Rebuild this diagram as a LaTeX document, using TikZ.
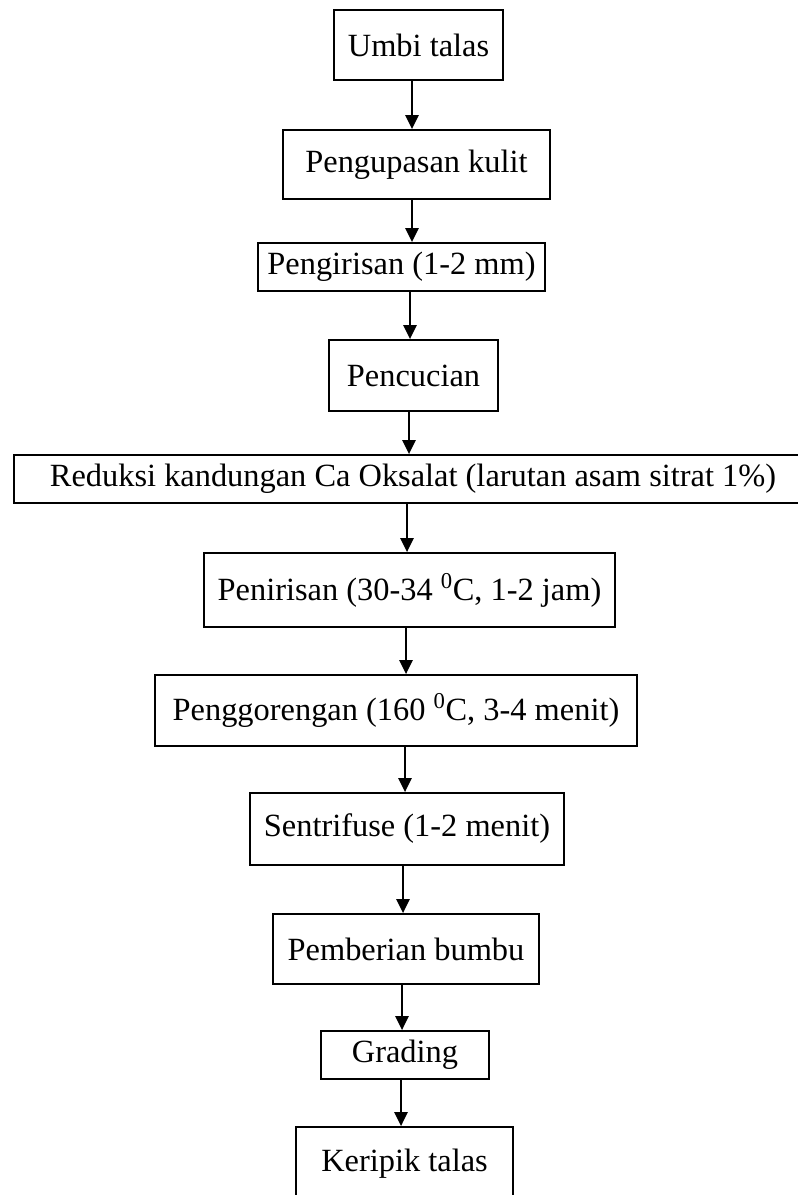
\documentclass[tikz,border=0pt]{standalone}
\usepackage{fontspec}
\setmainfont{Liberation Serif}
\usetikzlibrary{arrows.meta}
\begin{document}
\begin{tikzpicture}[x=0.75pt,y=-0.75pt,
  box/.style={draw, line width=1.4pt, rectangle, inner sep=0pt,
    font=\fontsize{24.3}{28}\selectfont},
  arr/.style={line width=1.4pt, -{Triangle[length=10.5pt,width=10pt]}}]
\useasboundingbox (0,0) rectangle (798,1195);
\fill[white] (0,0) rectangle (798,1195);
\clip (0,0) rectangle (798,1195);

% process steps
\node[box, minimum width=169*0.75pt, minimum height=70*0.75pt] (n1) at (418.5,45) {\raisebox{-3pt}{Umbi talas}};
\node[box, minimum width=267*0.75pt, minimum height=69*0.75pt] (n2) at (416.5,164.5) {Pengupasan kulit};
\node[box, minimum width=287*0.75pt, minimum height=48*0.75pt] (n3) at (401.5,267) {Pengirisan (1-2 mm)};
\node[box, minimum width=169*0.75pt, minimum height=71*0.75pt] (n4) at (413.5,375.5) {Pencucian};
\node[box, minimum width=798*0.75pt, minimum height=48*0.75pt] (n5) at (413,479) {Reduksi kandungan Ca Oksalat (larutan asam sitrat 1\%)};
\node[box, minimum width=411*0.75pt, minimum height=74*0.75pt] (n6) at (409.5,590) {\raisebox{-3pt}{Penirisan (30-34 \textsuperscript{0}C, 1-2 jam)}};
\node[box, minimum width=482*0.75pt, minimum height=71*0.75pt] (n7) at (396,710.5) {Penggorengan (160 \textsuperscript{0}C, 3-4 menit)};
\node[box, minimum width=314*0.75pt, minimum height=72*0.75pt] (n8) at (407,829) {Sentrifuse (1-2 menit)};
\node[box, minimum width=266*0.75pt, minimum height=70*0.75pt] (n9) at (406,949) {Pemberian bumbu};
\node[box, minimum width=168*0.75pt, minimum height=48*0.75pt] (n10) at (405,1055) {Grading};
\node[box, minimum width=217*0.75pt, minimum height=73*0.75pt] (n11) at (404.5,1163.5) {Keripik talas};

% flow arrows
\draw[arr] (n1.south -| 412,0) -- (n2.north -| 412,0);
\draw[arr] (n2.south -| 412,0) -- (n3.north -| 412,0);
\draw[arr] (n3.south -| 410,0) -- (n4.north -| 410,0);
\draw[arr] (n4.south -| 409,0) -- (n5.north -| 409,0);
\draw[arr] (n5.south -| 407,0) -- (n6.north -| 407,0);
\draw[arr] (n6.south -| 406,0) -- (n7.north -| 406,0);
\draw[arr] (n7.south -| 405,0) -- (n8.north -| 405,0);
\draw[arr] (n8.south -| 403,0) -- (n9.north -| 403,0);
\draw[arr] (n9.south -| 402,0) -- (n10.north -| 402,0);
\draw[arr] (n10.south -| 401,0) -- (n11.north -| 401,0);
\end{tikzpicture}
\end{document}
